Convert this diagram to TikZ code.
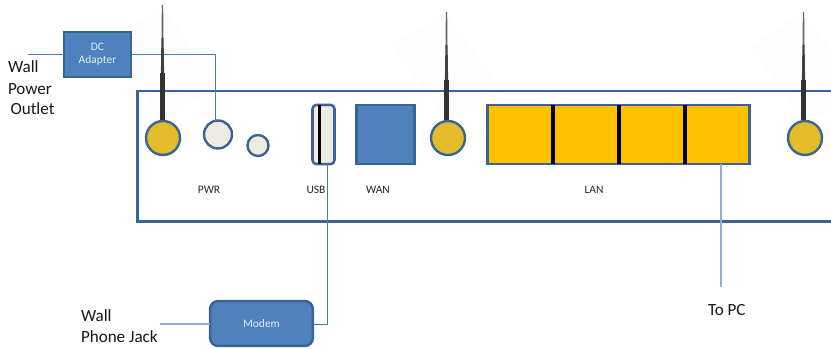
\documentclass[tikz,border=0pt]{standalone}
\usepackage{fontspec}
\setmainfont{Carlito}
\definecolor{edge}{HTML}{3A6496}
\definecolor{bluefill}{HTML}{4F81BD}
\definecolor{wire}{HTML}{4A7EBB}
\definecolor{lightwire}{HTML}{8FAFD6}
\definecolor{cream}{HTML}{EEECE1}
\definecolor{gold}{HTML}{E2BC2A}
\definecolor{amber}{HTML}{FFC000}
\definecolor{faint}{HTML}{FDFDFD}
\tikzset{
  port/.style={draw=edge,line width=1.9pt,inner sep=0pt,outer sep=0pt,minimum width=#1*0.75pt,minimum height=44.5pt},
  jack/.style={circle,draw=edge,line width=1.8pt,inner sep=0pt,outer sep=0pt,minimum size=#1*0.75pt},
  bluebox/.style={draw=edge,line width=1.9pt,fill=bluefill,text=white!85!bluefill,inner sep=0pt,outer sep=0pt,align=center,font=\fontsize{8.6}{10}\selectfont},
  wirep/.style={draw=wire,line width=0.7pt},
  lightw/.style={draw=lightwire,line width=0.9pt},
  divider/.style={draw=black,line width=2.5pt},
  label/.style={inner sep=0pt,outer sep=0pt,text=black!85,font=\fontsize{8.6}{10}\selectfont},
  biglabel/.style={inner sep=0pt,outer sep=0pt,anchor=base west,text=black!90,font=\fontsize{12.8}{14}\selectfont},
  mainbox/.style={draw=edge,line width=1.9pt,line join=miter},
}
\newcommand{\antenna}[4]{% x, top, taper, collar
  \fill[black!60] (#1-0.7,#2) -- (#1+0.7,#2) -- (#1+0.9,#3) -- (#1-0.9,#3) -- cycle;
  \fill[black!75] (#1-1.1,#3) -- (#1+1.1,#3) -- (#1+1.6,#4) -- (#1-1.6,#4) -- cycle;
  \fill[black!80] (#1-2.6,#4) rectangle (#1+2.6,#4+48);
}
\begin{document}
\begin{tikzpicture}[x=0.75pt,y=-0.75pt]
\useasboundingbox (0,0) rectangle (831,349);
\clip (0,0) rectangle (831,349);
\fill[white] (0,0) rectangle (831,349);
% faint halo behind the antennas
\fill[faint] (162,5) -- (108,45) -- (163,123) -- (218,85) -- cycle;
\fill[faint] (446,12) -- (392,45) -- (447,123) -- (502,90) -- cycle;
\fill[faint] (803,12) -- (750,47) -- (805,123) -- (860,90) -- cycle;

\coordinate (boxTR) at (831,91);
\coordinate (boxTL) at (137.5,91);
\coordinate (boxBL) at (137.5,221.5);
\coordinate (boxBR) at (831,221.5);
\draw[mainbox] (boxTR) -- (boxTL) -- (boxBL) -- (boxBR);

% nodes
\node[bluebox,minimum width=50.2pt,minimum height=33.7pt] (adapter) at (97.5,54.5) {DC\\[-0.5pt]Adapter};
\node[bluebox,rounded corners=6pt,minimum width=77pt,minimum height=33.7pt] (modem) at (261.5,323.5) {Modem};

\node[jack=28,fill=cream] (pwr) at (218,134.5) {};
\node[jack=21,fill=cream] (aux) at (258,145.5) {};
\node[port=22,rounded corners=3pt,fill=cream] (usb) at (323.5,134.5) {};
\node[port=58,fill=bluefill] (wan) at (385.5,134.5) {};
\node[port=262,fill=amber] (lan) at (618.5,134.5) {};

\coordinate (outlet) at (28,54);
\coordinate (phone) at (160,324);
\coordinate (usbport) at (327.5,164);
\coordinate (lanport) at (721,164);
\coordinate (topc) at (721,287);

% connectors
\draw[wirep] (outlet) -- (adapter.west |- outlet);
\draw[wirep] (adapter.east |- outlet) -| (pwr.100);
\draw[lightw] (phone) -- (modem.west |- phone);
\draw[wirep] (modem.east |- phone) -| (usbport);
\draw[lightw] (lanport) -- (topc);

% antennas
\antenna{162.5}{5}{38}{73}
\antenna{446.5}{12}{45}{80}
\antenna{803.5}{12}{45}{80}
\node[jack=34,fill=gold] (ant1) at (163,138) {};
\node[jack=34,fill=gold] (ant2) at (448,138) {};
\node[jack=34,fill=gold] (ant3) at (805,138) {};

% dividers
\coordinate (usbT) at (319.5,105); \coordinate (usbB) at (319.5,164);
\draw[divider] (usbT) -- (usbB);
\foreach \x/\n in {553/a,619/b,685/c}{
  \coordinate (lan\n T) at (\x,105); \coordinate (lan\n B) at (\x,164);
  \draw[divider] (lan\n T) -- (lan\n B);
}

% labels
\node[label] (pwrl) at (209,190) {PWR};
\node[label] (usbl) at (316,190) {USB};
\node[label] (wanl) at (378,190) {WAN};
\node[label] (lanl) at (594,190) {LAN};
\node[biglabel] (w1) at (8,73) {Wall};
\node[biglabel] (w2) at (8,95) {Power};
\node[biglabel] (w3) at (10.5,115) {Outlet};
\node[biglabel] (j1) at (81,321) {Wall};
\node[biglabel] (j2) at (81,342) {Phone Jack};
\node[biglabel] (pc) at (708,315) {To PC};
\end{tikzpicture}
\end{document}
